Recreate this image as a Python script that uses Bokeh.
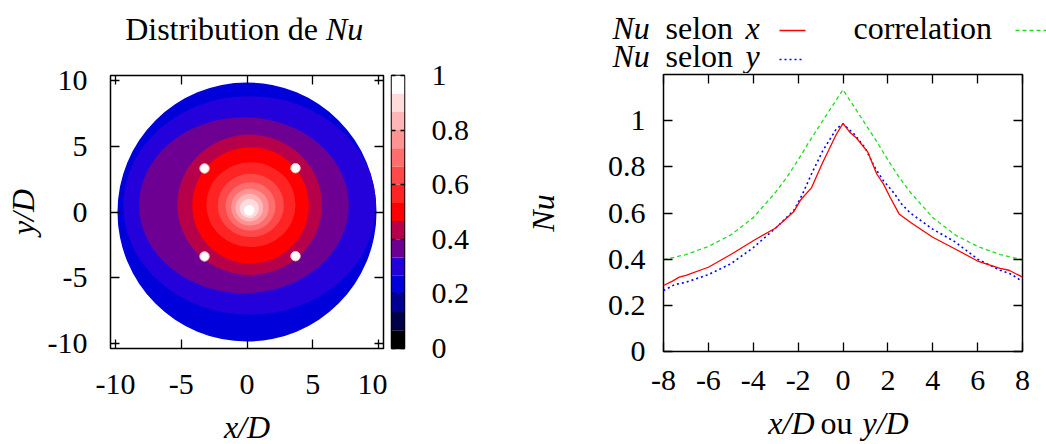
from bokeh.plotting import figure
from bokeh.layouts import row, column
from bokeh.models import (Range1d, LinearAxis, FixedTicker, NumeralTickFormatter,
                          ColumnDataSource)
from bokeh.core.properties import value
from bokeh.embed import file_html
from bokeh.resources import INLINE

FONT = "Liberation Serif"
NUM_SIZE = "30px"
TXT_SIZE = "32px"
MID_TO_BASE = 10.8   # distance from text-box middle to alphabetic baseline (32px)

# ---------------- data ----------------
# 15-step colour palette of the Nu map (0 -> 1)
nu_palette = ["#000000", "#000049", "#000092", "#0000da", "#2400da", "#6d0092", "#b60049",
              "#ff0000", "#ff2424", "#ff4949", "#ff6d6d", "#ff9292", "#ffb6b6", "#ffdbdb", "#ffffff"]
cb_ticks = [0, 0.2, 0.4, 0.6, 0.8, 1]

# contour regions of the map (palette level, centre, half extents in x/D, y/D)
band_level = [3, 4, 5, 6, 7, 8, 9, 10, 11, 12, 13, 14]
band_cx = [0.0, 0.2, -0.23, 0.2, 0.27, 0.3, 0.29, 0.27, 0.23, 0.18, 0.18, 0.17]
band_cy = [0.0, 0.5, 0.52, 0.55, 0.5, 0.56, 0.5, 0.43, 0.37, 0.33, 0.27, 0.14]
band_rx = [9.85, 9.6, 7.97, 5.5, 4.43, 3.39, 2.51, 1.9, 1.43, 1.05, 0.73, 0.4]
band_ry = [9.85, 8.3, 6.69, 5.34, 4.43, 3.23, 2.41, 1.84, 1.40, 1.05, 0.74, 0.4]

# the four holes
hole_x = [-3.23, 3.69, -3.23, 3.69]
hole_y = [3.31, 3.33, -3.38, -3.36]

map_ticks = [-10, -5, 0, 5, 10]

# profiles
x_pos = [-8, -7.6, -7.3, -7, -6, -5, -4, -3, -2.2, -1.9, -1.4, -0.9, -0.3, 0, 0.3, 0.6,
         1.1, 1.5, 1.8, 2.1, 2.5, 3, 4, 5, 6, 7, 7.4, 8]
nu_x = [0.286, 0.305, 0.322, 0.33, 0.365, 0.42, 0.48, 0.535, 0.605, 0.655, 0.71, 0.82, 0.94,
        0.988, 0.95, 0.925, 0.865, 0.77, 0.726, 0.668, 0.596, 0.56, 0.495, 0.444, 0.392, 0.36,
        0.352, 0.322]

y_pos = [-8, -7.5, -7, -6, -5, -4, -3, -2.2, -2, -1.8, -1.4, -0.9, -0.3, 0, 0.5, 1, 1.4, 1.8,
         2.3, 2.6, 3, 4, 5, 6, 7, 7.5, 8]
nu_y = [0.264, 0.29, 0.3, 0.333, 0.38, 0.45, 0.535, 0.61, 0.645, 0.683, 0.77, 0.87, 0.964,
        0.986, 0.942, 0.88, 0.8, 0.74, 0.683, 0.64, 0.6, 0.53, 0.475, 0.4, 0.352, 0.335, 0.303]

corr_pos = [-8, -7, -6, -5, -4, -3, -2.5, -2, -1.5, -1, -0.5, 0, 0.5, 1, 1.5, 2, 2.5, 3,
            4, 5, 6, 7, 8]
nu_corr = [0.397, 0.42, 0.455, 0.505, 0.58, 0.69, 0.755, 0.83, 0.91, 0.985, 1.06, 1.134,
           1.06, 0.985, 0.91, 0.83, 0.755, 0.69, 0.58, 0.505, 0.455, 0.42, 0.397]

prof_xticks = [-8, -6, -4, -2, 0, 2, 4, 6, 8]
prof_yticks = [0, 0.2, 0.4, 0.6, 0.8, 1]

RED, GREEN, BLUE = "#ff0000", "#22dd22", "#0000ff"


def style_axis(ax, ticks, labels=True, standoff=10, fmt="0"):
    ax.ticker = FixedTicker(ticks=ticks)
    ax.formatter = NumeralTickFormatter(format=fmt)
    ax.axis_line_color = None
    ax.major_tick_in = 9
    ax.major_tick_out = 0
    ax.major_tick_line_color = "black"
    ax.major_tick_line_width = 1.3
    ax.minor_tick_line_color = None
    ax.major_label_text_font = FONT
    if labels:
        ax.major_label_text_color = "black"
        ax.major_label_text_font_size = NUM_SIZE
        ax.major_label_standoff = standoff
    else:
        ax.major_label_text_color = None
        ax.major_label_text_font_size = "0px"
        ax.major_label_standoff = 0
    ax.axis_label_text_font = FONT
    ax.axis_label_text_font_size = TXT_SIZE
    ax.axis_label_text_font_style = "italic"
    ax.axis_label_text_color = "black"


def boxed(p):
    p.grid.visible = False
    p.outline_line_color = "black"
    p.outline_line_width = 1.5
    p.background_fill_color = "white"
    p.border_fill_color = "white"


def strip(w, h):
    s = figure(width=w, height=h, x_range=Range1d(0, w), y_range=Range1d(h, 0), title=None,
               x_axis_type=None, y_axis_type=None, min_border=0, frame_align=False,
               output_backend="svg", toolbar_location=None)
    s.grid.visible = False
    s.outline_line_color = None
    s.background_fill_color = "white"
    s.border_fill_color = "white"
    return s


def words(s, xs, baselines, texts, align="left", italic=False):
    s.text(x=xs, y=[b - MID_TO_BASE for b in baselines], text=texts, text_font=value(FONT),
           text_font_size=TXT_SIZE, text_font_style="italic" if italic else "normal",
           text_align=align, text_baseline="middle", text_color="black")


# ---------------- left: map ----------------
lim = 10.38
p1 = figure(width=387, height=360, x_range=Range1d(-lim, lim), y_range=Range1d(-lim, lim),
            output_backend="svg", toolbar_location=None, frame_align=False,
            min_border_left=110, min_border_right=4, min_border_top=27, min_border_bottom=60)
boxed(p1)

band_src = ColumnDataSource(dict(
    x=band_cx, y=band_cy,
    w=[2 * r for r in band_rx], h=[2 * r for r in band_ry],
    c=[nu_palette[k] for k in band_level]))
p1.ellipse(x="x", y="y", width="w", height="h", fill_color="c", line_color=None, source=band_src)
p1.circle(x=hole_x, y=hole_y, radius=0.36, fill_color="white", line_color="#ffb8b8", line_width=1)

style_axis(p1.xaxis[0], map_ticks, standoff=26)
style_axis(p1.yaxis[0], map_ticks, standoff=23)
p1.yaxis[0].axis_label = "y/D"
p1.yaxis[0].axis_label_standoff = 4
for loc in ("above", "right"):
    ax = LinearAxis()
    style_axis(ax, map_ticks, labels=False)
    p1.add_layout(ax, loc)

# ---------------- colour bar ----------------
n_lev = len(nu_palette)
cbar = figure(width=113, height=360, x_range=Range1d(0, 1), y_range=Range1d(0, 1),
              x_axis_type=None, y_axis_location="right", frame_align=False,
              output_backend="svg", toolbar_location=None,
              min_border_left=4, min_border_right=96, min_border_top=27, min_border_bottom=60)
boxed(cbar)
cbar.quad(left=0, right=1, bottom=[k / n_lev for k in range(n_lev)],
          top=[(k + 1) / n_lev for k in range(n_lev)], fill_color=nu_palette, line_color=None)
style_axis(cbar.yaxis[0], cb_ticks, standoff=27, fmt="0.[0]")
cbar.yaxis[0].major_tick_in = 4
cb_left = LinearAxis()
style_axis(cb_left, cb_ticks, labels=False)
cb_left.major_tick_in = 4
cbar.add_layout(cb_left, "left")

title_strip = strip(500, 48)
words(title_strip, [317.5], [39.5], ["Distribution de"], align="right")
words(title_strip, [325.5], [39.5], ["Nu"], italic=True)

left_xlabel = strip(500, 36)
words(left_xlabel, [246.5], [29], ["x/D"], align="center", italic=True)

# ---------------- right: profiles ----------------
p2 = figure(width=546, height=331, x_range=Range1d(-8, 8), y_range=Range1d(0, 1.2),
            output_backend="svg", toolbar_location=None, frame_align=False,
            min_border_left=163, min_border_right=24, min_border_top=1, min_border_bottom=53)
boxed(p2)
p2.line(corr_pos, nu_corr, line_color=GREEN, line_width=1.3, line_dash="4 3")
p2.line(y_pos, nu_y, line_color=BLUE, line_width=1.6, line_dash="2 3")
p2.line(x_pos, nu_x, line_color=RED, line_width=1.3)

style_axis(p2.xaxis[0], prof_xticks, standoff=19)
style_axis(p2.yaxis[0], prof_yticks, standoff=18, fmt="0.[0]")
p2.yaxis[0].axis_label = "Nu"
p2.yaxis[0].axis_label_standoff = 44
ax = LinearAxis()
style_axis(ax, prof_xticks, labels=False)
p2.add_layout(ax, "above")
ax = LinearAxis()
style_axis(ax, prof_yticks, labels=False)
p2.add_layout(ax, "right")

# legend strip
legend_strip = strip(546, 73)
words(legend_strip, [112, 112], [38, 66], ["Nu", "Nu"], italic=True)
words(legend_strip, [165, 165, 353], [38, 66, 38], ["selon", "selon", "correlation"])
words(legend_strip, [245, 245], [38, 66], ["x", "y"], italic=True)
legend_strip.line([279, 305], [30, 30], line_color=RED, line_width=1.3)
legend_strip.line([515, 546], [30, 30], line_color=GREEN, line_width=1.3, line_dash="4 3")
legend_strip.line([279, 302], [59, 59], line_color=BLUE, line_width=1.6, line_dash="2 3")

# x-axis label strip
xlabel_strip = strip(546, 40)
words(xlabel_strip, [314], [29], ["x/D"], align="right", italic=True)
words(xlabel_strip, [336], [29], ["ou"], align="center")
words(xlabel_strip, [362], [29], ["y/D"], italic=True)

layout = row(column(title_strip, row(p1, cbar), left_xlabel),
             column(legend_strip, p2, xlabel_strip))
open("out.html", "w").write(file_html(layout, INLINE))
